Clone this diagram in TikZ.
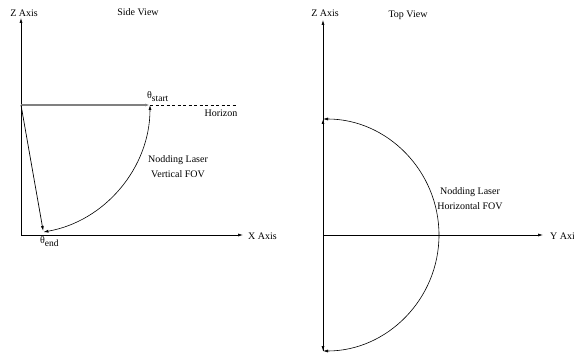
\documentclass[tikz,border=0pt]{standalone}
\usepackage{fontspec}
\setmainfont{Liberation Serif}
\usetikzlibrary{arrows.meta}
\tikzset{
  axis/.style={-{Latex[length=5pt,width=3pt]},line width=0.6pt},
  ray/.style={-{Latex[length=5pt,width=3pt]},line width=0.7pt},
  lbl/.style={font=\fontsize{10}{11}\selectfont,inner sep=0pt},
}
\newcommand{\thsub}[1]{θ\raisebox{-3pt}{\fontsize{9.5}{10}\selectfont #1}}
\begin{document}
\begin{tikzpicture}[x=1pt,y=-1pt]
  \clip (0,0) rectangle (574,353);
  % side view
  \coordinate (o1) at (21,235);
  \coordinate (z1) at (21,18);
  \coordinate (x1) at (243,235);
  \coordinate (h) at (21,105);
  \coordinate (st) at (150,105);
  \coordinate (hz) at (236,105);
  \coordinate (en) at (43.2,231);
  \draw[axis] (o1) -- (z1);
  \draw[axis] (o1) -- (x1);
  \draw[ray,gray,line width=1.2pt] (h) -- (st);
  \draw[dashed,line width=0.6pt,dash pattern=on 3pt off 2.5pt] (st) -- (hz);
  \draw[ray] (h) -- (en);
  \draw[{Latex[length=5pt,width=3pt]}-{Latex[length=5pt,width=3pt]},line width=0.6pt]
    (st) arc[start angle=0,end angle=80,radius=129];
  \node[lbl] (zlab1) at (24,13) {Z Axis};
  \node[lbl] (side) at (138,12) {Side View};
  \node[lbl,anchor=west] (xlab) at (248,236) {X Axis};
  \node[lbl,anchor=west] (tst) at (147,97) {\thsub{start}};
  \node[lbl] (hlab) at (221,113) {Horizon};
  \node[lbl] (nod1) at (178,160) {Nodding Laser};
  \node[lbl] (vfov) at (178,174) {Vertical FOV};
  \node[lbl,anchor=west] (ten) at (40,242) {\thsub{end}};
  % top view
  \coordinate (o2) at (323,235);
  \coordinate (z2) at (323,20);
  \coordinate (y2) at (543,235);
  \coordinate (up) at (323,119);
  \coordinate (dn) at (323,351);
  \draw[axis] (dn) -- (z2);
  \draw[axis] (o2) -- (y2);
  \draw[ray,line width=1pt] (o2) -- (up);
  \draw[ray] (o2) -- (dn);
  \draw[{Latex[length=5pt,width=3pt]}-{Latex[length=5pt,width=3pt]},line width=0.6pt]
    (up) arc[start angle=-90,end angle=90,radius=116];
  \node[lbl] (zlab2) at (325,13) {Z Axis};
  \node[lbl] (top) at (408,15) {Top View};
  \node[lbl,anchor=west] (ylab) at (550,236) {Y Axis};
  \node[lbl] (nod2) at (470,192) {Nodding Laser};
  \node[lbl] (hfov) at (470,206) {Horizontal FOV};
\end{tikzpicture}
\end{document}
